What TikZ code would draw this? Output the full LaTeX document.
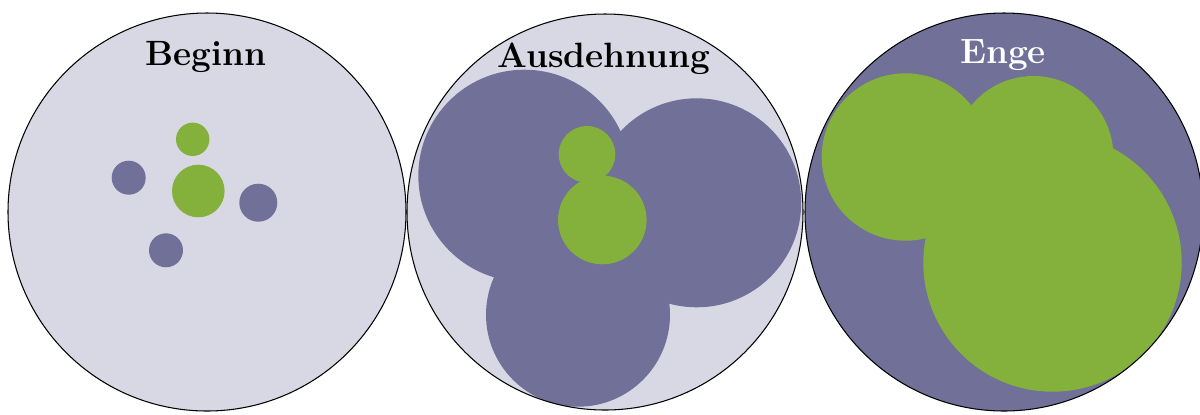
\documentclass[tikz,border=0pt]{standalone}
\usepackage{xcolor}
\usepackage{tikz}
\definecolor{PaleLilac}{HTML}{D8D8E4}
\definecolor{SlatePurple}{HTML}{707098}
\definecolor{LeafGreen}{HTML}{84B03C}
\tikzset{
  rim/.style={draw=black,line width=0.6pt},
  outer/.style={fill=SlatePurple},
  inner/.style={fill=LeafGreen},
  phasetitle/.style={anchor=base,inner sep=0pt,
    font=\fontsize{20}{23}\selectfont\bfseries},
}

\begin{document}
\begin{tikzpicture}[x=0.02cm,y=0.02cm]
  \useasboundingbox (0,0) rectangle (1200,-414);
  % Beginn
  \fill[PaleLilac] (207,-212) circle (199);
  \fill[outer] (128.7,-177.7) circle (17);
  \fill[outer] (258.3,-202.7) circle (19);
  \fill[outer] (166,-250.3) circle (17);
  \fill[inner] (192.7,-139.3) circle (16.7);
  \fill[inner] (198.3,-191) circle (26.3);
  \draw[rim] (207,-212) circle (199);
  \node[phasetitle] (beginn) at (206,-65) {Beginn};
  % Ausdehnung
  \fill[PaleLilac] (605,-212) circle (198);
  \begin{scope}
    \clip (605,-212) circle (198);
    \fill[outer] (524.3,-175.7) circle (106);
    \fill[outer] (696.7,-202.8) circle (104.5);
    \fill[outer] (578,-314.7) circle (92);
    \fill[inner] (587,-154.3) circle (28.3);
    \fill[inner] (602.3,-220) circle (44.3);
  \end{scope}
  \draw[rim] (605,-212) circle (198);
  \node[phasetitle] (ausdehnung) at (604,-67) {Ausdehnung};
  % Enge
  \fill[SlatePurple] (1004,-212) circle (199);
  \begin{scope}
    \clip (1004,-212) circle (199);
    \fill[inner] (905.4,-157) circle (83.7);
    \fill[inner] (1033.3,-156) circle (80);
    \fill[inner] (1052.5,-262.5) circle (129.2);
  \end{scope}
  \draw[rim] (1004,-212) circle (199);
  \node[phasetitle,text=white] (enge) at (1003,-63) {Enge};
\end{tikzpicture}
\end{document}
